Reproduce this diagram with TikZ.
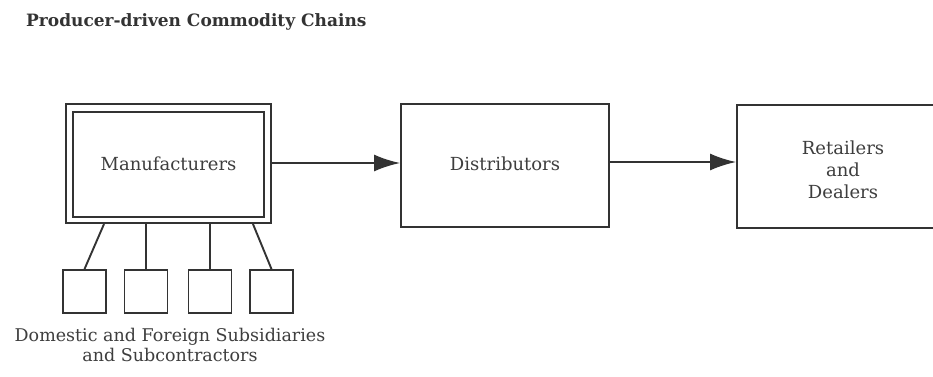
\documentclass[tikz,border=0pt]{standalone}
\usepackage{fontspec}
\setmainfont{DejaVu Serif}
\usetikzlibrary{arrows.meta,calc}
\definecolor{ink}{HTML}{333333}
\definecolor{txt}{HTML}{3E3E3E}
\tikzset{
  box/.style={draw=ink, line width=1.9pt, fill=none, inner sep=0pt, text=txt,
              font=\fontsize{18}{22}\selectfont, align=center},
  lbl/.style={inner sep=0pt, text=txt, font=\fontsize{18}{22}\selectfont, align=center},
  sub/.style={draw=ink, line width=1.9pt, minimum width=43pt, minimum height=43pt, inner sep=0pt},
  link/.style={draw=ink, line width=1.9pt},
  flow/.style={draw=ink, line width=1.9pt, -{Latex[length=26pt,width=17pt]}},
}
\begin{document}
\begin{tikzpicture}[x=1pt,y=-1pt]
\useasboundingbox (0,0) rectangle (933,376);
\clip (0,0) rectangle (933,376);
\fill[white] (0,0) rectangle (933,376);

% heading
\node[anchor=west, text=ink, inner sep=0pt, font=\fontsize{17}{20}\selectfont\bfseries] (title) at (26,22) {Producer-driven Commodity Chains};

% manufacturers: double frame
\node[box, minimum width=205pt, minimum height=119pt] (mfr) at (168.5,163.5) {};
\node[box, minimum width=191pt, minimum height=105pt] (mfrin) at (168.5,164.5) {\raisebox{2pt}{Manufacturers}};

% subsidiaries and subcontractors
\node[sub] (s1) at (84.5,291.5) {};
\node[sub] (s2) at (146,291.5) {};
\node[sub] (s3) at (210,291.5) {};
\node[sub] (s4) at (271.5,291.5) {};
\draw[link] ([xshift=39pt]mfr.south west) -- (s1.north);
\draw[link] (s2.north) -- (s2.north |- mfr.south);
\draw[link] (s3.north) -- (s3.north |- mfr.south);
\draw[link] ([xshift=-19pt]mfr.south east) -- (s4.north);

\node[text=txt, align=center, inner sep=0pt, font=\fontsize{17.5}{20}\selectfont] (sublabel) at (170,345)
  {Domestic and Foreign Subsidiaries\\and Subcontractors};

% distributors and retailers
\node[box, minimum width=208pt, minimum height=123pt] (dist) at (505,165.5) {\raisebox{3pt}{Distributors}};
\node[box, minimum width=212pt, minimum height=123pt] (ret) at (843,166.5) {};
\node[lbl] (rettext) at ([yshift=-3.5pt]ret.center) {Retailers\\and\\Dealers};

% flow between stages
\draw[flow] ([yshift=0.5pt]mfr.east) -- ([yshift=0.5pt]mfr.east -| dist.west);
\draw[flow] ([yshift=3.5pt]dist.east) -- ([yshift=3.5pt]dist.east -| ret.west);
\end{tikzpicture}
\end{document}
